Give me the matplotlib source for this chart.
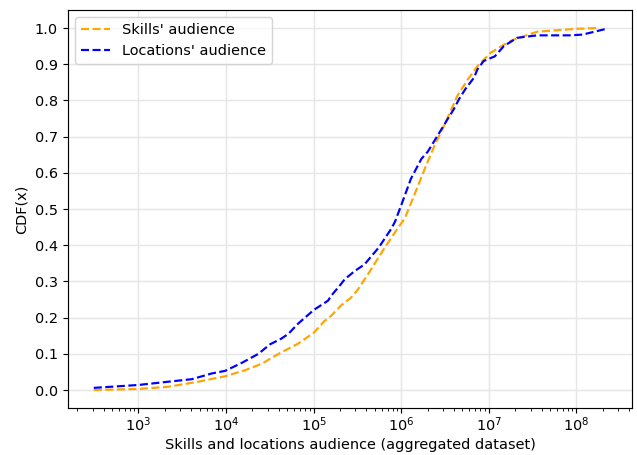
import numpy as np
import matplotlib
matplotlib.use("Agg")
import matplotlib.pyplot as plt

# CDF of skills' audience
skills_x = [309, 1000, 2190, 4790, 9770, 16600, 25700, 39800, 66100, 100000,
            132000, 158000, 204000, 269000, 316000, 417000, 646000, 912000,
            1.10e6, 1.41e6, 1.86e6, 2.40e6, 3.09e6, 4.37e6, 5.75e6, 7.41e6,
            1.05e7, 1.48e7, 1.91e7, 3.55e7, 1.0e8, 1.70e8]
skills_cdf = [0.000, 0.003, 0.009, 0.023, 0.038, 0.055, 0.073, 0.100, 0.128, 0.158,
              0.190, 0.205, 0.233, 0.256, 0.276, 0.320, 0.393, 0.447,
              0.475, 0.539, 0.612, 0.676, 0.731, 0.813, 0.858, 0.895,
              0.932, 0.954, 0.968, 0.990, 0.998, 1.000]

# CDF of locations' audience
locations_x = [309, 1000, 2190, 4070, 6920, 9770, 15100, 23400, 31600, 42700,
               51300, 66100, 100000, 146000, 158000, 204000, 226000, 295000,
               380000, 550000, 776000, 851000, 1.0e6, 1.29e6, 1.70e6, 2.0e6,
               2.60e6, 3.39e6, 3.98e6, 4.57e6, 5.37e6, 6.76e6, 7.41e6, 8.71e6,
               1.17e7, 1.48e7, 2.09e7, 3.55e7, 8.32e7, 1.17e8, 2.19e8]
locations_cdf = [0.006, 0.014, 0.023, 0.030, 0.046, 0.053, 0.075, 0.100, 0.126, 0.142,
                 0.155, 0.183, 0.221, 0.247, 0.260, 0.292, 0.306, 0.329,
                 0.347, 0.393, 0.447, 0.466, 0.511, 0.584, 0.639, 0.658,
                 0.703, 0.749, 0.776, 0.804, 0.831, 0.863, 0.886, 0.909,
                 0.922, 0.950, 0.973, 0.980, 0.980, 0.982, 0.998]

dpi = 104.5
fig, ax = plt.subplots(figsize=(637 / dpi, 455 / dpi), dpi=dpi)

ax.plot(skills_x, skills_cdf, "--", color="orange", linewidth=1.5, label="Skills' audience")
ax.plot(locations_x, locations_cdf, "--", color="blue", linewidth=1.5, label="Locations' audience")

ax.set_xscale("log")
ax.set_yticks(np.arange(0, 1.01, 0.1))
ax.tick_params(axis="x", pad=1.5)
ax.set_xlabel("Skills and locations audience (aggregated dataset)", labelpad=3)
ax.set_ylabel("CDF(x)")
ax.grid(True, color="#e6e6e6", linewidth=1)
ax.set_axisbelow(True)
ax.legend(loc="upper left")

fig.subplots_adjust(left=0.107, right=0.992, top=0.978, bottom=0.103)
fig.savefig("out.png", dpi=dpi)
